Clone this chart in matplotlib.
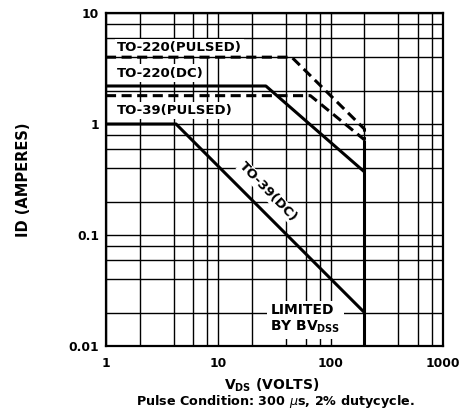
import matplotlib
matplotlib.use("Agg")
import matplotlib.pyplot as plt
from matplotlib.ticker import FixedLocator, NullFormatter

plt.rcParams['font.family'] = ['DejaVu Sans']
plt.rcParams['mathtext.fontset'] = 'dejavusans'

# ---- data ----
v_to220_pulsed = [1, 45, 200, 200]
i_to220_pulsed = [4.0, 4.0, 0.9, 0.72]
v_to220_dc = [1, 26.5, 200]
i_to220_dc = [2.2, 2.2, 0.37]
v_to39_pulsed = [1, 66, 200]
i_to39_pulsed = [1.8, 1.8, 0.72]
v_to39_dc = [1, 4.2, 200]
i_to39_dc = [1.0, 1.0, 0.02]
v_bvdss = [200, 200]
i_bvdss = [0.72, 0.01]

x_ticks = [1, 10, 100, 1000]
x_ticklabels = ["1", "10", "100", "1000"]
y_ticks = [0.01, 0.1, 1, 10]
y_ticklabels = ["0.01", "0.1", "1", "10"]
minor_mults = [2, 4, 6, 8]

fig = plt.figure(figsize=(4.65, 4.15), dpi=100)
ax = fig.add_axes([106/465, 1-346/415, (443-106)/465, (346-13)/415])
ax.set_xscale('log')
ax.set_yscale('log')
ax.set_xlim(1, 1000)
ax.set_ylim(0.01, 10)

# grid
xminor = [m*10**e for e in range(0, 3) for m in minor_mults]
yminor = [m*10**e for e in range(-2, 1) for m in minor_mults]
ax.xaxis.set_major_locator(FixedLocator(x_ticks))
ax.yaxis.set_major_locator(FixedLocator(y_ticks))
ax.xaxis.set_minor_locator(FixedLocator(xminor))
ax.yaxis.set_minor_locator(FixedLocator(yminor))
ax.xaxis.set_minor_formatter(NullFormatter())
ax.yaxis.set_minor_formatter(NullFormatter())
ax.set_xticklabels(x_ticklabels)
ax.set_yticklabels(y_ticklabels)
ax.grid(True, which='both', color='black', linewidth=1.0, zorder=0.5)
ax.set_axisbelow(True)
ax.tick_params(which='both', length=0)
ax.tick_params(axis='x', pad=8, labelsize=8.8)
ax.tick_params(axis='y', pad=5, labelsize=8.8)
for lab in ax.get_xticklabels() + ax.get_yticklabels():
    lab.set_fontweight('bold')
for s in ax.spines.values():
    s.set_linewidth(1.6)

lw = 2.2
dash = (3.3, 1.8)
ax.plot(v_to220_pulsed, i_to220_pulsed, color='black', lw=lw, dashes=dash, zorder=4)
ax.plot(v_to39_pulsed, i_to39_pulsed, color='black', lw=lw, dashes=dash, zorder=4)
ax.plot(v_to220_dc, i_to220_dc, color='black', lw=lw, zorder=4, solid_capstyle='butt')
ax.plot(v_to39_dc, i_to39_dc, color='black', lw=lw, zorder=4, solid_capstyle='butt')
ax.plot(v_bvdss, i_bvdss, color='black', lw=lw, zorder=4, solid_capstyle='butt')

box = dict(facecolor='white', edgecolor='none', pad=1.5)
tkw = dict(fontsize=9.5, fontweight='bold', zorder=3, bbox=box)
ax.text(1.245, 4.87, "TO-220(PULSED)", ha='left', va='center', **tkw)
ax.text(1.245, 2.88, "TO-220(DC)", ha='left', va='center', **tkw)
ax.text(1.245, 1.33, "TO-39(PULSED)", ha='left', va='center', **tkw)
ax.text(27.7, 0.243, "TO-39(DC)", ha='center', va='center', rotation=-46,
        fontsize=9.5, fontweight='bold', zorder=3,
        bbox=dict(facecolor='white', edgecolor='none', pad=0.5))
ax.text(29.0, 0.0174, "LIMITED\nBY BV$_{\\mathregular{DSS}}$", ha='left', va='center',
        linespacing=1.1, fontsize=10, fontweight='bold', zorder=3,
        bbox=dict(facecolor='white', edgecolor='none', pad=2.5))

ax.set_ylabel("ID (AMPERES)", fontsize=10.5, fontweight='bold')
ax.yaxis.set_label_coords(-(106-31)/337, 0.5)
fig.text(272/465, 1-385/415, "V$_{\\mathregular{DS}}$ (VOLTS)", ha='center', va='center',
         fontsize=10, fontweight='bold')
fig.text(275.5/465, 1-401/415, "Pulse Condition: 300 $\\mu$s, 2% dutycycle.",
         ha='center', va='center', fontsize=9.2, fontweight='bold')

fig.savefig("out.png", dpi=100)
